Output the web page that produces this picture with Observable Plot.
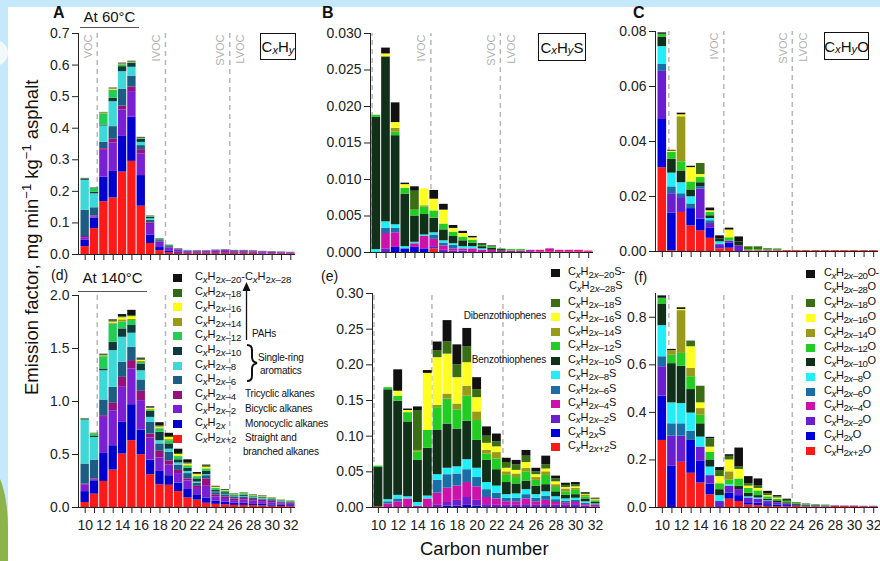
<!DOCTYPE html>
<html><head><meta charset="utf-8">
<script src="https://cdn.jsdelivr.net/npm/d3@7"></script>
<script src="https://cdn.jsdelivr.net/npm/@observablehq/plot@0.6"></script>
<style>
body{margin:0;}
#root{position:relative;width:880px;height:561px;overflow:hidden;background:#c5e8fb;font-family:"Liberation Sans",Arial,sans-serif;color:#111;}
#paper{position:absolute;left:8px;top:7px;right:0;bottom:0;background:#fff;}
#hill{position:absolute;left:-30px;top:468px;width:38px;height:120px;border-radius:50% 50% 0 0;background:#8db34a;}
#cloud{position:absolute;left:-20px;top:40px;width:28px;height:26px;border-radius:50%;background:#f3f8fb;}
.plot{position:absolute;left:0;top:0;}
.abs{position:absolute;white-space:nowrap;line-height:1;}
.f{font-size:11px;letter-spacing:-0.1px;}
.f sub{font-size:0.88em;vertical-align:baseline;position:relative;top:0.3em;}
.sw{position:absolute;width:9px;height:8px;}
.d{font-size:10px;letter-spacing:-0.2px;}
.box{position:absolute;border:1px solid #111;font-size:15px;display:flex;align-items:center;justify-content:center;background:#fff;}
.box sub{font-size:0.75em;vertical-align:baseline;position:relative;top:0.3em;}
</style></head>
<body><div id="root"><div id="paper"></div><div id="cloud"></div><div id="hill"></div></div>
<script>
// ---------- categories ----------
const carbon = [10,11,12,13,14,15,16,17,18,19,20,21,22,23,24,25,26,27,28,29,30,31,32];
const seriesKeys = ["+2","0","-2","-4","-6","-8","-10","-12","-14","-16","-18","-20"];

// ---------- Panel A: CxHy at 60 °C ----------
const A_p2  = [0.025,0.082,0.167,0.179,0.261,0.295,0.153,0.035,0.012,0.005,0.004,0.003,0.003,0.003,0.003,0.003,0.003,0.003,0.003,0.002,0.002,0.002,0.002];
const A_0   = [0.020,0.033,0.078,0.084,0.113,0.140,0.097,0.027,0.010,0.005,0.003,0.002,0.002,0.002,0.002,0.002,0.002,0.002,0.002,0.002,0.001,0.001,0.001];
const A_m2  = [0.008,0.004,0.085,0.090,0.084,0.081,0.069,0.033,0.016,0.010,0.006,0.004,0.004,0.004,0.005,0.005,0.004,0.004,0.003,0.003,0.003,0.002,0.002];
const A_m4  = [0.004,0.003,0.005,0.012,0.012,0.014,0.013,0.005,0.002,0.002,0.002,0.001,0.001,0.001,0.002,0.003,0.002,0.002,0.002,0.002,0.002,0.002,0.001];
const A_m6  = [0.083,0.026,0.020,0.040,0.053,0.035,0.013,0.008,0.004,0.003,0.002,0.001,0.001,0.001,0.001,0.001,0.001,0.001,0.001,0.001,0.001,0.001,0.001];
const A_m8  = [0.095,0.044,0.052,0.079,0.056,0.028,0.010,0.005,0.002,0.002,0.001,0.001,0,0,0,0,0,0,0,0,0,0,0];
const A_m10 = [0.004,0.005,0.003,0.011,0.016,0.012,0.010,0.005,0.003,0.002,0.001,0.001,0.001,0.001,0.001,0.001,0.001,0.001,0.001,0,0,0,0];
const A_m12 = [0.001,0.013,0.035,0.025,0.005,0.002,0.002,0.003,0.001,0.001,0,0,0,0,0,0,0,0,0,0,0,0,0];
const A_m14 = [0,0,0.002,0.001,0.002,0.001,0.001,0,0,0,0,0,0,0,0,0,0,0,0,0,0,0,0];
const A_m16 = [0,0,0.001,0.003,0.001,0.001,0,0,0,0,0,0,0,0,0,0,0,0,0,0,0,0,0];
const A_m18 = [0,0,0.001,0.001,0.001,0.001,0.001,0,0,0,0,0,0,0,0,0,0,0,0,0,0,0,0];
const A_m20 = [0.001,0.001,0.001,0.002,0.002,0.002,0.002,0.001,0,0,0,0,0,0,0,0,0,0,0,0,0,0,0];

// ---------- Panel d: CxHy at 140 °C ----------
const D_p2  = [0.047,0.126,0.246,0.353,0.504,0.630,0.498,0.309,0.214,0.21,0.15,0.09,0.07,0.04,0.03,0.025,0.02,0.02,0.018,0.015,0.012,0.01,0.008];
const D_0   = [0.103,0.126,0.264,0.230,0.299,0.340,0.232,0.138,0.126,0.09,0.08,0.08,0.05,0.05,0.03,0.025,0.02,0.02,0.017,0.015,0.013,0.01,0.009];
const D_m2  = [0.06,0.010,0.340,0.330,0.331,0.337,0.278,0.208,0.126,0.10,0.09,0.08,0.06,0.11,0.04,0.035,0.025,0.03,0.025,0.025,0.02,0.015,0.013];
const D_m4  = [0.01,0.008,0.016,0.070,0.094,0.079,0.088,0.038,0.064,0.04,0.03,0.02,0.02,0.07,0.02,0.015,0.015,0.015,0.015,0.015,0.013,0.01,0.01];
const D_m6  = [0.19,0.177,0.148,0.151,0.142,0.126,0.107,0.110,0.07,0.08,0.05,0.05,0.03,0.03,0.02,0.02,0.015,0.015,0.013,0.01,0.009,0.008,0.007];
const D_m8  = [0.415,0.213,0.276,0.346,0.236,0.132,0.087,0.047,0.03,0.03,0.02,0.02,0.01,0.01,0.005,0.005,0.005,0.005,0.004,0.005,0.003,0.003,0.003];
const D_m10 = [0.005,0.01,0.017,0.08,0.079,0.073,0.064,0.057,0.08,0.05,0.03,0.03,0.03,0.03,0.015,0.015,0.01,0.01,0.008,0.007,0.007,0.005,0.004];
const D_m12 = [0.003,0.02,0.113,0.17,0.065,0.047,0.015,0.013,0.03,0.03,0.03,0.02,0.02,0.02,0.02,0.015,0.01,0.015,0.01,0.008,0.008,0.005,0.004];
const D_m14 = [0.002,0.002,0.005,0.01,0.02,0.01,0.01,0.005,0.01,0.01,0.005,0.005,0.005,0.005,0.003,0.002,0.002,0.002,0.002,0.002,0.001,0.001,0.001];
const D_m16 = [0,0.002,0.005,0.01,0.02,0.026,0.01,0.01,0.01,0.02,0.015,0.015,0.015,0.015,0.007,0.003,0.003,0.003,0.003,0.002,0.002,0.001,0.001];
const D_m18 = [0.003,0.004,0.01,0.01,0.01,0.01,0.01,0.005,0.01,0.01,0.01,0.01,0.005,0.01,0.005,0.005,0.003,0.003,0.004,0.003,0.003,0.002,0.002];
const D_m20 = [0.002,0.002,0.006,0.01,0.02,0.05,0.01,0.01,0.03,0.03,0.04,0.03,0.015,0.01,0.005,0.005,0.002,0.002,0.002,0.003,0.001,0.001,0.001];

// ---------- Panel B: CxHyS at 60 °C ----------
const B_p2  = [0,0,0,0,0,0,0.0005,0,0,0,0,0,0,0,0,0,0,0.0001,0.0001,0.0001,0.0001,0.0001,0.0001];
const B_0   = [0,0,0.0007,0.0005,0.0007,0.0005,0,0,0,0,0,0,0,0,0,0,0,0,0,0,0,0,0];
const B_m2  = [0,0.0005,0,0,0,0,0.0003,0.0003,0.0002,0.0002,0,0,0,0,0,0,0.0001,0,0,0,0,0,0];
const B_m4  = [0,0.0021,0.0020,0,0.0005,0.0017,0.0010,0.0006,0.0003,0.0003,0.0005,0.0003,0.0003,0.0002,0.0002,0.0002,0.0002,0.0002,0.0004,0.0002,0.0002,0.0002,0.0001];
const B_m6  = [0,0.0007,0.0006,0,0,0,0.0006,0.0004,0.0005,0,0,0,0,0,0,0,0,0,0,0,0,0,0];
const B_m8  = [0.0004,0.0009,0.0005,0.0003,0.0002,0.0002,0.0003,0.0003,0.0002,0.0003,0.0003,0.0002,0,0,0,0,0,0,0,0,0,0,0];
const B_m10 = [0.0181,0.0226,0.0122,0.0072,0.0036,0.0028,0.0020,0.0015,0.0010,0.0008,0.0005,0.0003,0.0003,0.0002,0,0,0,0,0,0,0,0,0];
const B_m12 = [0.0003,0,0.0005,0.0008,0.0008,0.0010,0.0010,0.0008,0.0006,0.0005,0.0004,0.0002,0.0002,0.0001,0.0002,0.0002,0,0,0,0,0,0,0];
const B_m14 = [0,0,0.0005,0,0,0.0002,0,0,0,0,0,0,0,0,0,0,0,0,0,0,0,0,0];
const B_m16 = [0,0.0004,0.0008,0.0005,0,0.0023,0.0016,0.0019,0.0005,0.0005,0.0003,0,0,0,0,0,0,0,0,0,0,0,0];
const B_m18 = [0,0,0,0,0.0026,0,0,0,0,0,0,0,0,0,0,0,0,0,0,0,0,0,0];
const B_m20 = [0,0.0008,0.0027,0.0002,0.0006,0,0.0012,0.0008,0.0004,0.0003,0.0002,0.0002,0.0001,0,0,0,0,0,0,0,0,0,0];

// ---------- Panel e: CxHyS at 140 °C ----------
const E_p2  = [0.001,0,0,0,0,0,0,0,0,0,0,0,0,0,0,0,0,0,0,0,0,0,0];
const E_0   = [0,0,0,0,0,0,0,0.002,0.002,0.003,0.002,0,0,0,0,0,0,0,0,0,0,0,0];
const E_m2  = [0,0,0,0,0,0,0.003,0.005,0.008,0.011,0.008,0.004,0.003,0.003,0.003,0.004,0.003,0.004,0.003,0.003,0.004,0.002,0.001];
const E_m4  = [0,0.005,0.008,0.012,0.002,0.012,0.017,0.020,0.020,0.021,0.019,0.010,0.009,0.005,0.005,0.008,0.005,0.006,0.004,0.003,0.003,0.002,0.002];
const E_m6  = [0,0.003,0.004,0,0,0,0.018,0.019,0.017,0.018,0.013,0.011,0.008,0.005,0.005,0.006,0.005,0.006,0.004,0.003,0.003,0.002,0.001];
const E_m8  = [0,0.003,0.005,0.003,0.005,0.004,0.008,0.009,0.010,0.014,0.013,0.010,0.010,0.005,0.006,0.007,0.005,0.006,0.004,0.003,0.003,0.002,0.001];
const E_m10 = [0.055,0.154,0.132,0.105,0.059,0.067,0.062,0.062,0.053,0.054,0.039,0.031,0.023,0.017,0.014,0.012,0.012,0.010,0.007,0.005,0.005,0.004,0.002];
const E_m12 = [0.002,0.003,0.007,0.013,0.012,0.025,0.032,0.035,0.027,0.035,0.028,0.009,0.015,0.010,0.009,0.013,0.008,0.013,0.006,0.005,0.006,0.003,0.002];
const E_m14 = [0,0,0,0,0.002,0,0.003,0.007,0.008,0.014,0.012,0.005,0.009,0.005,0.005,0.005,0.004,0.005,0.004,0.004,0.003,0.002,0.001];
const E_m16 = [0,0,0.007,0.003,0,0.080,0.067,0.056,0.037,0.033,0.020,0.010,0.008,0.005,0.005,0.008,0.004,0.004,0.004,0.002,0.002,0.001,0.001];
const E_m18 = [0,0,0,0,0.056,0,0.010,0.017,0.018,0.022,0.011,0.010,0.007,0.008,0.008,0.009,0.004,0.006,0.004,0.003,0.003,0.002,0.001];
const E_m20 = [0,0,0.030,0.002,0.005,0.004,0.012,0.030,0.028,0.026,0.017,0.013,0.011,0.006,0.006,0.008,0.005,0.012,0.004,0.003,0.003,0.001,0.001];

// ---------- Panel C: CxHyO at 60 °C ----------
const C_p2  = [0.0305,0.0003,0.0142,0.0093,0.0075,0.0048,0.001,0.0012,0,0.0002,0.0002,0.0002,0.0002,0.0003,0.0003,0.0003,0.0003,0.0003,0.0003,0.0003,0.0003,0.0003,0.0003];
const C_0   = [0.0175,0.0137,0,0.0063,0.0043,0.0036,0,0.0018,0,0,0,0,0,0,0,0,0,0,0,0,0,0,0];
const C_m2  = [0.0175,0.007,0.0054,0,0.0109,0.0018,0.0015,0.0008,0.002,0,0,0,0,0,0,0,0,0,0,0,0,0,0];
const C_m4  = [0,0,0,0,0,0,0,0,0,0.0001,0.0001,0.0001,0.0001,0,0,0,0,0,0,0,0,0,0];
const C_m6  = [0.0025,0.0025,0.0014,0.0017,0.0008,0.001,0,0,0,0,0,0,0,0,0,0,0,0,0,0,0,0,0];
const C_m8  = [0.0065,0.005,0.004,0.0026,0,0.0008,0.001,0,0,0,0,0,0,0,0,0,0,0,0,0,0,0,0];
const C_m10 = [0.0035,0.005,0.0043,0.0025,0.0015,0.001,0.001,0,0.0015,0,0,0,0,0,0,0,0,0,0,0,0,0,0];
const C_m12 = [0.001,0.0025,0.0033,0.0029,0.002,0.0013,0,0.0012,0,0.0004,0.0004,0.0002,0.0002,0,0,0,0,0,0,0,0,0,0];
const C_m14 = [0,0,0.0164,0,0,0,0,0,0,0,0,0,0,0,0,0,0,0,0,0,0,0,0];
const C_m16 = [0,0.0005,0.0007,0.0052,0.001,0.0005,0,0.0028,0,0,0,0,0,0,0,0,0,0,0,0,0,0,0];
const C_m18 = [0,0,0,0,0.004,0,0,0,0,0.001,0.001,0.0005,0.0004,0,0,0,0,0,0,0,0,0,0];
const C_m20 = [0.0005,0.0003,0.0006,0.0005,0,0.001,0.0012,0.0007,0.0018,0,0,0,0,0,0,0,0,0,0,0,0,0,0];

// ---------- Panel f: CxHyO at 140 °C ----------
const F_p2  = [0.282,0,0.19,0.144,0.103,0.053,0,0.035,0.025,0.01,0.008,0.005,0.004,0.003,0.004,0.003,0.003,0.002,0.005,0.004,0.004,0.003,0.003];
const F_0   = [0.186,0.173,0,0.138,0.091,0.046,0,0.025,0.025,0.01,0.01,0.007,0.006,0.005,0,0,0,0,0,0,0,0,0];
const F_m2  = [0.124,0.127,0.11,0,0.06,0.035,0.025,0.03,0.025,0.02,0.017,0.013,0.01,0.007,0.004,0.003,0.003,0.002,0.002,0.002,0.002,0.002,0.002];
const F_m4  = [0,0,0,0,0,0,0,0,0,0,0,0,0,0,0,0,0,0,0,0,0,0,0];
const F_m6  = [0.042,0.052,0.052,0.039,0,0,0,0,0,0,0,0,0,0,0,0,0,0,0,0,0,0,0];
const F_m8  = [0.131,0.088,0.085,0.076,0.042,0.036,0.025,0.005,0,0.005,0.005,0.003,0,0,0,0,0,0,0,0,0,0,0];
const F_m10 = [0.091,0.165,0.157,0.099,0.056,0.03,0.025,0,0.015,0.015,0.01,0.007,0.008,0.005,0.004,0.003,0.002,0.002,0,0,0,0,0];
const F_m12 = [0.024,0.035,0.054,0.054,0.036,0.032,0.025,0.02,0.03,0.02,0.02,0.01,0.007,0.005,0.004,0.003,0.002,0.002,0,0,0,0,0];
const F_m14 = [0,0.02,0.18,0.035,0.028,0,0,0.035,0,0,0,0,0,0,0,0,0,0,0,0,0,0,0];
const F_m16 = [0,0,0.005,0.091,0.024,0.022,0.03,0.05,0.04,0.01,0.01,0.005,0.005,0,0,0,0,0,0,0,0,0,0];
const F_m18 = [0,0,0,0.024,0.07,0.035,0.025,0.015,0.01,0.01,0.01,0.008,0.005,0.005,0.004,0.003,0.002,0.002,0,0,0,0,0];
const F_m20 = [0.01,0.005,0.007,0,0,0.006,0.013,0.007,0.08,0.03,0.03,0.01,0.005,0.005,0,0,0,0,0,0,0,0,0];

// ---------- colours (series order: +2, 0, -2 ... -20) ----------
const colorsHC = ["#ff1a1a","#0000cc","#7a1fd4","#97107e","#1d5d84","#3ed8d8","#0e3a3c","#22cc55","#9a9a14","#ffff00","#2e6b12","#111111"];
const colorsSO = ["#ff1a1a","#0000dd","#6a1ed0","#cc12aa","#1a6ea8","#22eefa","#10301a","#22cc22","#9a9a1a","#ffff22","#3a6e14","#111111"];

// ---------- tick values ----------
const ticksA = [0,0.1,0.2,0.3,0.4,0.5,0.6,0.7];
const ticksD = [0,0.5,1.0,1.5,2.0];
const ticksB = [0,0.005,0.010,0.015,0.020,0.025,0.030];
const ticksE = [0,0.05,0.10,0.15,0.20,0.25,0.30];
const ticksC = [0,0.02,0.04,0.06,0.08];
const ticksF = [0,0.2,0.4,0.6,0.8];

const panels = [
  {series:[A_p2,A_0,A_m2,A_m4,A_m6,A_m8,A_m10,A_m12,A_m14,A_m16,A_m18,A_m20], colors:colorsHC, axisX:78, barL:80, barR:295, y0:254, yTopPx:33, top:0.7, ticks:ticksA, fmt:".1f", bottom:false,
   lines:[11.29,18.59,25.47], labL:[{x:11.29,t:"VOC"},{x:18.59,t:"IVOC"},{x:25.47,t:"SVOC"}], labR:[{x:25.47,t:"LVOC"}]},
  {series:[D_p2,D_0,D_m2,D_m4,D_m6,D_m8,D_m10,D_m12,D_m14,D_m16,D_m18,D_m20], colors:colorsHC, axisX:78, barL:80, barR:295, y0:507, yTopPx:295, top:2.0, ticks:ticksD, fmt:".1f", bottom:true,
   lines:[11.29,18.59,25.47], labL:[], labR:[]},
  {series:[B_p2,B_0,B_m2,B_m4,B_m6,B_m8,B_m10,B_m12,B_m14,B_m16,B_m18,B_m20], colors:colorsSO, axisX:370, barL:371, barR:593, y0:252, yTopPx:33, top:0.030, ticks:ticksB, fmt:".3f", bottom:false,
   lines:[9.57,15.65,22.85], labL:[{x:15.65,t:"IVOC"},{x:22.85,t:"SVOC"}], labR:[{x:22.85,t:"LVOC"}]},
  {series:[E_p2,E_0,E_m2,E_m4,E_m6,E_m8,E_m10,E_m12,E_m14,E_m16,E_m18,E_m20], colors:colorsSO, axisX:372, barL:373, barR:600, y0:507, yTopPx:293, top:0.30, ticks:ticksE, fmt:".2f", bottom:true,
   lines:[9.55,15.42,22.62], labL:[], labR:[]},
  {series:[C_p2,C_0,C_m2,C_m4,C_m6,C_m8,C_m10,C_m12,C_m14,C_m16,C_m18,C_m20], colors:colorsSO, axisX:655, barL:657, barR:878, y0:251, yTopPx:31, top:0.08, ticks:ticksC, fmt:".2f", bottom:false,
   lines:[10.68,16.4,23.53], labL:[{x:16.4,t:"IVOC"},{x:23.53,t:"SVOC"}], labR:[{x:23.53,t:"LVOC"}]},
  {series:[F_p2,F_0,F_m2,F_m4,F_m6,F_m8,F_m10,F_m12,F_m14,F_m16,F_m18,F_m20], colors:colorsSO, axisX:655, barL:657, barR:878, y0:507, yTopPx:293, top:0.9, ticks:ticksF, fmt:".1f", bottom:true,
   lines:[10.68,16.4,23.53], labL:[], labR:[]}
];

const root = document.getElementById("root");
const FONT = '"Liberation Sans", Arial, sans-serif';

for (const p of panels) {
  const bw = (p.barR - p.barL) / 23;
  const xmin = 9.5 - (p.barL - p.axisX) / bw;
  const rows = [];
  carbon.forEach((c, i) => {
    let cum = 0;
    p.series.forEach((arr, k) => {
      const v = arr[i];
      if (v > 0) rows.push({x1: c - 0.5, x2: c + 0.5, y1: cum, y2: cum + v, fill: p.colors[k]});
      cum += v;
    });
  });
  const marks = [
    Plot.ruleX(p.lines, {y1: 0, y2: p.top, stroke: "#b8b8b8", strokeWidth: 1.5, strokeDasharray: "5,4"}),
    Plot.rect(rows, {x1: "x1", x2: "x2", y1: "y1", y2: "y2", fill: "fill", insetLeft: 0.5, insetRight: 0.5}),
    Plot.ruleY([0], {stroke: "#222", strokeWidth: 1}),
    Plot.ruleX([xmin], {y1: 0, y2: p.top, stroke: "#222", strokeWidth: 1}),
    Plot.axisY({ticks: p.ticks, tickFormat: d3.format(p.fmt), tickSize: 6, tickPadding: 3, fontSize: 14, label: null, stroke: "#222"}),
    Plot.axisX({ticks: carbon, tickFormat: d => (p.bottom && d % 2 === 0) ? String(d) : "", tickSize: 6, tickPadding: 7, fontSize: 14, label: null, stroke: "#222"})
  ];
  if (p.labL.length) marks.push(Plot.text(p.labL, {x: "x", y: p.top, text: "t", rotate: -90, textAnchor: "end", dx: -9, dy: 1, fill: "#b0b0b0", fontSize: 11}));
  if (p.labR.length) marks.push(Plot.text(p.labR, {x: "x", y: p.top, text: "t", rotate: -90, textAnchor: "end", dx: 11, dy: 1, fill: "#b0b0b0", fontSize: 11}));
  const svg = Plot.plot({
    width: 880, height: 561,
    marginLeft: p.axisX, marginRight: 880 - p.barR, marginTop: p.yTopPx, marginBottom: 561 - p.y0,
    x: {domain: [xmin, 32.5]},
    y: {domain: [0, p.top]},
    color: {type: "identity"},
    style: {background: "none", overflow: "visible", fontFamily: FONT, color: "#222", maxWidth: "none"},
    marks
  });
  svg.classList.add("plot");
  root.appendChild(svg);
}

// ---------- text overlays ----------
function add(html, css, cls) {
  const el = document.createElement("div");
  el.className = cls || "abs";
  el.innerHTML = html;
  Object.assign(el.style, css);
  root.appendChild(el);
  return el;
}
const fx = (s, tail) => `C<sub><i>x</i></sub>H<sub>${s}</sub>${tail || ""}`;

// panel letters & temperature headers
add("A", {left: "53px", top: "5px", fontSize: "16px", fontWeight: "bold"});
add("B", {left: "322px", top: "5px", fontSize: "16px", fontWeight: "bold"});
add("C", {left: "633px", top: "5px", fontSize: "16px", fontWeight: "bold"});
add("(d)", {left: "51px", top: "268px", fontSize: "14px"});
add("(e)", {left: "321px", top: "269px", fontSize: "14px"});
add("(f)", {left: "634px", top: "270px", fontSize: "14px"});
add("At 60°C", {left: "80px", top: "9px", width: "59px", textAlign: "center", fontSize: "15px", paddingBottom: "3px", borderBottom: "1.5px solid #555"});
add("At 140°C", {left: "78px", top: "270px", width: "69px", textAlign: "center", fontSize: "15px", paddingBottom: "6px", borderBottom: "1.5px solid #555"});

// formula boxes
add("C<sub><i>x</i></sub>H<sub><i>y</i></sub>", {left: "260px", top: "33px", width: "34px", height: "25px"}, "box");
add("C<sub><i>x</i></sub>H<sub><i>y</i></sub>S", {left: "538px", top: "33px", width: "46px", height: "26px"}, "box");
add("C<sub><i>x</i></sub>H<sub><i>y</i></sub>O", {left: "824px", top: "32px", width: "43px", height: "26px"}, "box");

// axis titles
add("Emission factor, mg min<sup style='font-size:0.7em'>−1</sup> kg<sup style='font-size:0.7em'>−1</sup> asphalt",
    {left: "31px", top: "395px", fontSize: "18.5px", transformOrigin: "0 0", transform: "rotate(-90deg) translate(0,-50%)"});
add("Carbon number", {left: "420px", top: "540px", fontSize: "18.5px"});

// legend labels
const subsHC = ["2<i>x</i>–20","2<i>x</i>–18","2<i>x</i>–16","2<i>x</i>–14","2<i>x</i>–12","2<i>x</i>–10","2<i>x</i>–8","2<i>x</i>–6","2<i>x</i>–4","2<i>x</i>–2","2<i>x</i>","2<i>x</i>+2"];

// legend d (CxHy)
subsHC.forEach((s, i) => {
  const yc = 278 + i * 14.6;
  add("", {left: "173px", top: (yc - 4) + "px", background: colorsHC[11 - i]}, "sw");
  const txt = i === 0 ? fx(s) + "-" + fx("2<i>x</i>–28") : fx(s);
  add(txt, {left: "195px", top: (yc - 7) + "px"}, "abs f");
});
add("PAHs", {left: "252px", top: "329px"}, "abs d");
add("Single-ring", {left: "258px", top: "353px"}, "abs d");
add("aromatics", {left: "260px", top: "366px"}, "abs d");
add("Tricyclic alkanes", {left: "245px", top: "389px"}, "abs d");
add("Bicyclic alkanes", {left: "245px", top: "404px"}, "abs d");
add("Monocyclic alkanes", {left: "245px", top: "419px"}, "abs d");
add("Straight and", {left: "245px", top: "433px"}, "abs d");
add("branched alkanes", {left: "243px", top: "447px"}, "abs d");
const ns = "http://www.w3.org/2000/svg";
const ov = document.createElementNS(ns, "svg");
ov.setAttribute("width", 880); ov.setAttribute("height", 561);
ov.style.position = "absolute"; ov.style.left = "0"; ov.style.top = "0";
ov.innerHTML = `<line x1="246.5" y1="340" x2="246.5" y2="290" stroke="#111" stroke-width="1.3"/>
<path d="M242.5,291 L246.5,282 L250.5,291 Z" fill="#111"/>
<path d="M247,345 q5,0 5,5 v7 q0,5 5,6 q-5,1 -5,6 v7 q0,5 -5,5" fill="none" stroke="#111" stroke-width="2"/>`;
root.appendChild(ov);

// legend e (CxHyS)
const rowsE = [273.3, 302.7, 317.2, 331.6, 346.1, 360.6, 375.0, 389.5, 404.0, 418.5, 432.9, 447.4];
subsHC.forEach((s, i) => {
  const yc = rowsE[i];
  add("", {left: "551px", top: (yc - 4) + "px", background: colorsSO[11 - i]}, "sw");
  add(fx(s, i === 0 ? "S-" : "S"), {left: "568px", top: (yc - 7) + "px"}, "abs f");
});
add(fx("2<i>x</i>–28", "S"), {left: "569px", top: (287 - 7) + "px"}, "abs f");
add("Dibenzothiophenes", {left: "460px", width: "86px", textAlign: "right", top: "311px"}, "abs d");
add("Benzothiophenes", {left: "460px", width: "86px", textAlign: "right", top: "355px"}, "abs d");

// legend f (CxHyO)
const rowsF = [274, 303.3, 318.0, 332.8, 347.5, 362.2, 377.0, 391.7, 406.4, 421.2, 435.9, 450.7];
subsHC.forEach((s, i) => {
  const yc = rowsF[i];
  add("", {left: "806px", top: (yc - 4) + "px", background: colorsSO[11 - i]}, "sw");
  add(fx(s, i === 0 ? "O-" : "O"), {left: "824px", top: (yc - 7) + "px", letterSpacing: "-0.45px"}, "abs f");
});
add(fx("2<i>x</i>–28", "O"), {left: "824px", top: (288.3 - 7) + "px", letterSpacing: "-0.45px"}, "abs f");
</script>
</body></html>
